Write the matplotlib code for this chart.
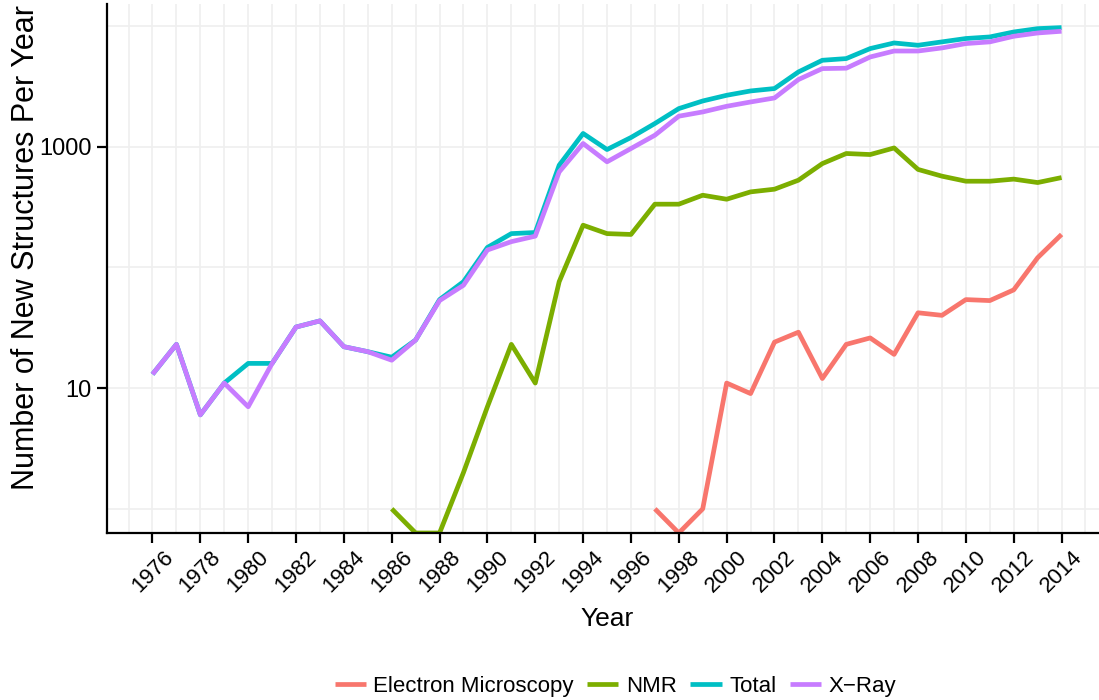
import matplotlib
matplotlib.use("Agg")
import matplotlib.pyplot as plt
from matplotlib.ticker import FixedLocator, NullFormatter
import numpy as np

plt.rcParams['font.family'] = ['Liberation Sans', 'DejaVu Sans']

# ----------------------------------
# data
# ----------------------------------
years = list(range(1976, 2015))

xray = [13, 23, 6, 11, 7, 16, 32, 36, 22, 20,
        17, 25, 53, 71, 139, 163, 181, 616, 1059, 747,
        962, 1240, 1782, 1933, 2153, 2337, 2523, 3584, 4417, 4450,
        5512, 6175, 6175, 6550, 7115, 7350, 8180, 8710, 9000]

total = [13, 23, 6, 11, 16, 16, 32, 36, 22, 20,
         18, 25, 54, 76, 146, 190, 194, 700, 1282, 944,
         1187, 1550, 2060, 2382, 2655, 2884, 3020, 4143, 5176, 5346,
         6469, 7200, 6890, 7350, 7837, 8075, 8877, 9460, 9650]

nmr_years = list(range(1986, 2015))
nmr = [1, 0, 0, 2, 7, 23, 11, 76, 223, 190,
       187, 333, 333, 395, 366, 421, 443, 526, 722, 875,
       858, 973, 646, 568, 516, 516, 537, 503, 553]

em_years = list(range(1997, 2015))
em = [1, 0, 1, 11, 9, 24, 29, 12, 23, 26,
      19, 42, 40, 54, 53, 65, 120, 187]

labels = ["Electron Microscopy", "NMR", "Total", "X\u2212Ray"]
colors = ["#F8766D", "#7CAE00", "#00BFC4", "#C77CFF"]

x_ticks = list(range(1976, 2015, 2))

# ----------------------------------
# plot
# ----------------------------------
ymin, ymax = 10 ** -0.2, 10 ** 4.18

fig = plt.figure(figsize=(10.99, 7), dpi=100)
ax = fig.add_axes([0.0974, 0.2386, 0.9099, 0.7557])

series = [(em_years, em), (nmr_years, nmr), (years, total), (years, xray)]
for (xs, ys), lab, col in zip(series, labels, colors):
    ys = np.array(ys, dtype=float)
    # zero counts sit on the panel edge, like -Inf on a log scale
    ys = np.where(ys > 0, ys, ymin)
    ax.plot(xs, ys, color=col, lw=3.4, label=lab, solid_capstyle='butt')

ax.set_yscale('log')
ax.set_xlim(1974.1, 2015.9)
ax.set_ylim(ymin, ymax)

ax.yaxis.set_major_locator(FixedLocator([10, 1000]))
ax.yaxis.set_minor_locator(FixedLocator([1, 100, 10000]))
ax.yaxis.set_major_formatter(plt.FuncFormatter(lambda v, p: f"{int(v)}"))
ax.yaxis.set_minor_formatter(NullFormatter())
ax.xaxis.set_major_locator(FixedLocator(x_ticks))
ax.xaxis.set_minor_locator(FixedLocator(list(range(1975, 2016, 2))))

ax.grid(True, which='both', color='#EFEFEF', lw=1.2)
ax.set_axisbelow(True)

for s in ['top', 'right']:
    ax.spines[s].set_visible(False)
for s in ['left', 'bottom']:
    ax.spines[s].set_linewidth(1.6)
    ax.spines[s].set_color('black')

ax.tick_params(which='major', length=7, width=1.6, color='black',
               labelsize=17, pad=4)
ax.tick_params(which='minor', length=0)
ax.tick_params(axis='x', labelsize=16, pad=3)
for t in ax.get_xticklabels():
    t.set_rotation(45)
    t.set_ha('center')
    t.set_va('top')

ax.set_xlabel("Year", fontsize=19)
ax.xaxis.set_label_coords(0.5, -0.14)
ax.set_ylabel("Number of New Structures Per Year", fontsize=22)
ax.yaxis.set_label_coords(-0.066, 0.54)

fig.legend(loc='center', bbox_to_anchor=(0.56, 0.019), ncol=4,
           frameon=False, fontsize=16, handlelength=1.4,
           handletextpad=0.35, columnspacing=0.6)

fig.savefig("out.png", dpi=100)
